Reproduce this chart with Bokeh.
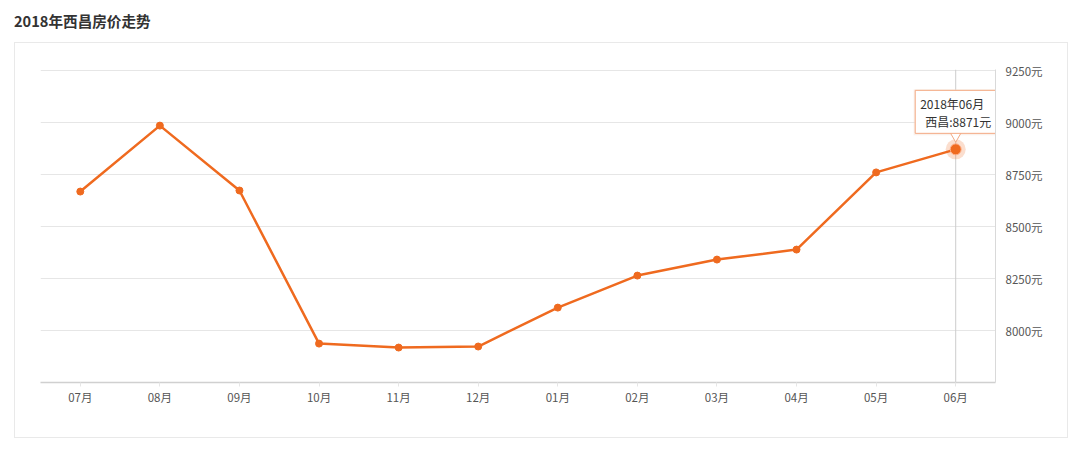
from bokeh.plotting import figure
from bokeh.models import FactorRange, Range1d, FixedTicker, PrintfTickFormatter, Div
from bokeh.layouts import column
from bokeh.embed import file_html
from bokeh.resources import INLINE
from bokeh.core.properties import value

# ---- data ----
months = ["07月", "08月", "09月", "10月", "11月", "12月",
          "01月", "02月", "03月", "04月", "05月", "06月"]
prices = [8668, 8985, 8673, 7937, 7918, 7923, 8110, 8264, 8341, 8389, 8760, 8871]
y_ticks = [8000, 8250, 8500, 8750, 9000, 9250]
y_min, y_max = 7750, 9250
title_text = "2018年西昌房价走势"
city = "西昌"
tip_date = "2018年06月"

FONT = "Noto Sans CJK SC"
ORANGE = "#ef6a1f"

W, H = 1054, 396
ML, MR, MT, MB = 25, 74, 26, 57
upp = (y_max - y_min) / 312.0  # data units per pixel
frame_top = y_max + upp * (H - MT - MB - 312)

p = figure(width=W, height=H, x_range=FactorRange(*months), y_range=Range1d(y_min, frame_top),
           output_backend="svg", toolbar_location=None, y_axis_location="right",
           min_border_left=ML, min_border_right=MR, min_border_top=MT, min_border_bottom=MB,
           margin=(0, 0, 0, 14), styles={"border": "1px solid #e9e9e9"})
p.outline_line_color = None
p.background_fill_color = "white"
p.border_fill_color = "white"

# y axis (right)
p.yaxis.ticker = FixedTicker(ticks=y_ticks)
p.yaxis.formatter = PrintfTickFormatter(format="%d元")
p.yaxis.axis_line_color = "#d9d9d9"
p.yaxis.major_tick_line_color = None
p.yaxis.major_tick_out = 0
p.yaxis.major_tick_in = 0
p.yaxis.minor_tick_line_color = None
p.yaxis.major_label_standoff = 10
p.yaxis.major_label_text_font = FONT
p.yaxis.major_label_text_font_size = "11.5px"
p.yaxis.major_label_text_color = "#555555"

p.ygrid.ticker = FixedTicker(ticks=y_ticks)
p.ygrid.grid_line_color = "#e6e6e6"
p.xgrid.grid_line_color = None

# x axis
p.xaxis.axis_line_color = "#d0d0d0"
p.xaxis.axis_line_width = 1.5
p.xaxis.major_tick_out = 4
p.xaxis.major_tick_in = 0
p.xaxis.major_tick_line_color = "#e6e6e6"
p.xaxis.major_label_standoff = 2
p.xaxis.major_label_text_font = FONT
p.xaxis.major_label_text_font_size = "11.5px"
p.xaxis.major_label_text_color = "#555555"

last_m, last_v = months[-1], prices[-1]

# crosshair
p.segment(x0=[last_m], y0=[y_min], x1=[last_m], y1=[frame_top], line_color="#cccccc", line_width=1)

# line + markers
p.line(months, prices, line_color=ORANGE, line_width=2.5)
p.scatter(months[:-1], prices[:-1], size=7, fill_color=ORANGE, line_color=ORANGE)
p.scatter([last_m], [last_v], size=20, fill_color=ORANGE, fill_alpha=0.22, line_color=None)
p.scatter([last_m], [last_v], size=11, fill_color=ORANGE, line_color="#ffb08a", line_width=1)

# tooltip
p.rect(x=[last_m], y=[last_v + 37.0 * upp], width=84, height=46, width_units="screen",
       height_units="screen", fill_color="#f6e3d8", fill_alpha=0.5, line_color=None)
p.scatter([last_m], [last_v + 13.5 * upp], marker="inverted_triangle", size=11,
          fill_color="white", line_color="#f3a983", line_width=1)
p.rect(x=[last_m], y=[last_v + 37.5 * upp], width=81, height=43, width_units="screen",
       height_units="screen", fill_color="white", line_color="#f3a983", line_width=1)
p.text(x=[last_m], y=[last_v + 46 * upp], text=[tip_date], x_offset=-35.5,
       text_align="left", text_baseline="middle", text_font=value(FONT),
       text_font_size="12px", text_color="#333333")
p.text(x=[last_m], y=[last_v + 28 * upp], text=[f"{city}:{last_v}元"], x_offset=35.5,
       text_align="right", text_baseline="middle", text_font=value(FONT),
       text_font_size="12px", text_color="#333333")

title = Div(text=f'<div style="font-family:\'Noto Sans CJK SC\';font-weight:bold;'
                 f'font-size:14.6px;color:#333;line-height:28px;white-space:nowrap;">{title_text}</div>',
            width=W, height=35, margin=(7, 0, 0, 14))

layout = column(title, p, spacing=0)
open("out.html", "w").write(file_html(layout, INLINE))
